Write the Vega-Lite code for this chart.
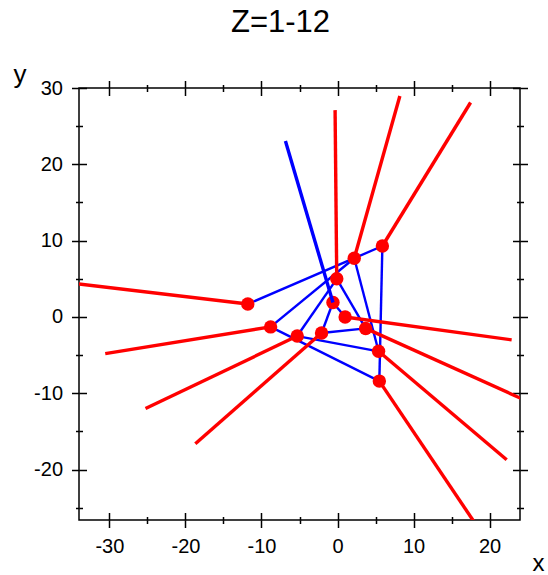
{
  "$schema": "https://vega.github.io/schema/vega-lite/v6.json",
  "autosize": {"type": "none"},
  "width": 441,
  "height": 432,
  "padding": {"left": 79, "top": 88, "right": 28, "bottom": 55},
  "title": {"text": "Z=1-12", "font": "Liberation Sans", "fontSize": 31, "fontWeight": "normal", "color": "black", "anchor": "middle", "frame": "group", "dx": -19, "offset": 22},
  "datasets": {
    "red": [
      {"x": -11.8, "y": 1.7, "x2": -34.2, "y2": 4.35},
      {"x": -8.8, "y": -1.3, "x2": -30.55, "y2": -4.8},
      {"x": -5.3, "y": -2.5, "x2": -25.25, "y2": -12.0},
      {"x": -2.1, "y": -2.1, "x2": -18.7, "y2": -16.6},
      {"x": -0.1, "y": 5.0, "x2": -0.32, "y2": 27.1},
      {"x": 1.0, "y": 0.0, "x2": 22.9, "y2": -3.0},
      {"x": 2.2, "y": 7.7, "x2": 8.2, "y2": 28.95},
      {"x": 5.9, "y": 9.3, "x2": 17.5, "y2": 28.1},
      {"x": 3.7, "y": -1.5, "x2": 24.3, "y2": -10.75},
      {"x": 5.4, "y": -4.5, "x2": 22.25, "y2": -18.7},
      {"x": 5.5, "y": -8.4, "x2": 18.0, "y2": -26.9}
    ],
    "blue": [
      {"x": -11.8, "y": 1.7, "x2": 2.2, "y2": 7.7},
      {"x": 2.2, "y": 7.7, "x2": 5.9, "y2": 9.3},
      {"x": 5.9, "y": 9.3, "x2": 5.5, "y2": -8.4},
      {"x": 2.2, "y": 7.7, "x2": 5.4, "y2": -4.5},
      {"x": -8.8, "y": -1.3, "x2": 2.2, "y2": 7.7},
      {"x": -5.3, "y": -2.5, "x2": -0.1, "y2": 5.0},
      {"x": -0.1, "y": 5.0, "x2": 3.7, "y2": -1.5},
      {"x": -0.6, "y": 1.9, "x2": 1.0, "y2": 0.0},
      {"x": -2.1, "y": -2.1, "x2": -0.6, "y2": 1.9},
      {"x": -2.1, "y": -2.1, "x2": 3.7, "y2": -1.5},
      {"x": -8.8, "y": -1.3, "x2": 5.5, "y2": -8.4},
      {"x": -5.3, "y": -2.5, "x2": 5.4, "y2": -4.5}
    ],
    "thick": [
      {"x": -6.85, "y": 23.06, "x2": -0.6, "y2": 1.9}
    ],
    "pts": [
      {"z": 1, "x": -11.8, "y": 1.7},
      {"z": 2, "x": -8.8, "y": -1.3},
      {"z": 3, "x": -5.3, "y": -2.5},
      {"z": 4, "x": -2.1, "y": -2.1},
      {"z": 5, "x": -0.6, "y": 1.9},
      {"z": 6, "x": -0.1, "y": 5.0},
      {"z": 7, "x": 1.0, "y": 0.0},
      {"z": 8, "x": 2.2, "y": 7.7},
      {"z": 9, "x": 5.9, "y": 9.3},
      {"z": 10, "x": 3.7, "y": -1.5},
      {"z": 11, "x": 5.4, "y": -4.5},
      {"z": 12, "x": 5.5, "y": -8.4}
    ]
  },
  "resolve": {"axis": {"x": "independent", "y": "independent"}},
  "layer": [
    {
      "data": {"name": "blue"},
      "mark": {"type": "rule", "color": "#0000ff", "strokeWidth": 2.4, "clip": true},
      "encoding": {
        "x": {"field": "x", "type": "quantitative", "scale": {"domain": [-34, 24], "nice": false, "zero": false},
          "axis": {"orient": "bottom", "title": "x", "titleFont": "Liberation Sans", "titleFontSize": 24, "titleFontWeight": "normal", "titleColor": "black", "titleX": 453, "titleY": 50, "titleAlign": "left", "titleBaseline": "alphabetic", "titleAngle": 0,
            "values": [-30, -25, -20, -15, -10, -5, 0, 5, 10, 15, 20],
            "labelExpr": "datum.value % 10 === 0 ? toString(datum.value) : ''",
            "tickSize": {"condition": {"test": "datum.value % 10 === 0", "value": 7.5}, "value": 3.5},
            "labelPadding": 9, "labelFlush": false}},
        "y": {"field": "y", "type": "quantitative", "scale": {"domain": [-26.6, 30], "nice": false, "zero": false},
          "axis": {"orient": "left", "title": "y", "titleFont": "Liberation Sans", "titleFontSize": 26, "titleFontWeight": "normal", "titleColor": "black", "titleX": -66, "titleY": -6, "titleAlign": "left", "titleBaseline": "alphabetic", "titleAngle": 0,
            "values": [-25, -20, -15, -10, -5, 0, 5, 10, 15, 20, 25, 30],
            "labelExpr": "datum.value % 10 === 0 ? toString(datum.value) : ''",
            "tickSize": {"condition": {"test": "datum.value % 10 === 0", "value": 7.5}, "value": 3.5},
            "labelPadding": 9, "labelFlush": false}},
        "x2": {"field": "x2"},
        "y2": {"field": "y2"}
      }
    },
    {
      "data": {"name": "red"},
      "mark": {"type": "rule", "color": "#ff0000", "strokeWidth": 3.4, "clip": true},
      "encoding": {
        "x": {"field": "x", "type": "quantitative", "scale": {"domain": [-34, 24], "nice": false, "zero": false},
          "axis": {"orient": "bottom", "title": null, "labels": false,
            "values": [-30, -25, -20, -15, -10, -5, 0, 5, 10, 15, 20],
            "tickSize": {"condition": {"test": "datum.value % 10 === 0", "value": -7.5}, "value": -3.5}}},
        "y": {"field": "y", "type": "quantitative", "scale": {"domain": [-26.6, 30], "nice": false, "zero": false},
          "axis": {"orient": "left", "title": null, "labels": false,
            "values": [-25, -20, -15, -10, -5, 0, 5, 10, 15, 20, 25, 30],
            "tickSize": {"condition": {"test": "datum.value % 10 === 0", "value": -7.5}, "value": -3.5}}},
        "x2": {"field": "x2"},
        "y2": {"field": "y2"}
      }
    },
    {
      "data": {"name": "pts"},
      "mark": {"type": "circle", "color": "#ff0000", "opacity": 1, "size": 180},
      "encoding": {
        "x": {"field": "x", "type": "quantitative", "scale": {"domain": [-34, 24], "nice": false, "zero": false},
          "axis": {"orient": "top", "title": null, "labels": false,
            "values": [-30, -25, -20, -15, -10, -5, 0, 5, 10, 15, 20],
            "tickSize": {"condition": {"test": "datum.value % 10 === 0", "value": 7.5}, "value": 3.5}}},
        "y": {"field": "y", "type": "quantitative", "scale": {"domain": [-26.6, 30], "nice": false, "zero": false},
          "axis": {"orient": "right", "title": null, "labels": false,
            "values": [-25, -20, -15, -10, -5, 0, 5, 10, 15, 20, 25, 30],
            "tickSize": {"condition": {"test": "datum.value % 10 === 0", "value": 7.5}, "value": 3.5}}}
      }
    },
    {
      "data": {"name": "thick"},
      "mark": {"type": "rule", "color": "#0000ff", "strokeWidth": 3.4, "clip": true},
      "encoding": {
        "x": {"field": "x", "type": "quantitative", "scale": {"domain": [-34, 24], "nice": false, "zero": false},
          "axis": {"orient": "top", "title": null, "labels": false,
            "values": [-30, -25, -20, -15, -10, -5, 0, 5, 10, 15, 20],
            "tickSize": {"condition": {"test": "datum.value % 10 === 0", "value": -7.5}, "value": -3.5}}},
        "y": {"field": "y", "type": "quantitative", "scale": {"domain": [-26.6, 30], "nice": false, "zero": false},
          "axis": {"orient": "right", "title": null, "labels": false,
            "values": [-25, -20, -15, -10, -5, 0, 5, 10, 15, 20, 25, 30],
            "tickSize": {"condition": {"test": "datum.value % 10 === 0", "value": -7.5}, "value": -3.5}}},
        "x2": {"field": "x2"},
        "y2": {"field": "y2"}
      }
    }
  ],
  "config": {
    "view": {"stroke": "black", "strokeWidth": 1.5},
    "axis": {"grid": false, "domain": false, "ticks": true, "tickColor": "black", "tickWidth": 1.5, "labelFont": "Liberation Sans", "labelFontSize": 20, "labelColor": "black"}
  }
}
